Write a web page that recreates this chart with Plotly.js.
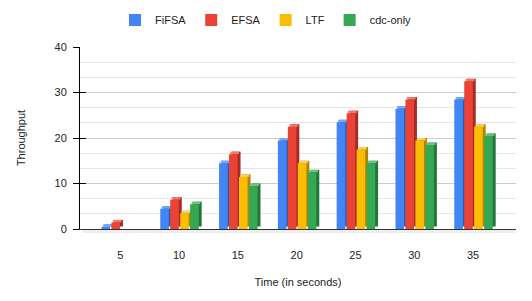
<!DOCTYPE html>
<html>
<head>
<meta charset="utf-8">
<script src="https://cdn.plot.ly/plotly-3.0.1.min.js"></script>
<style>html,body{margin:0;padding:0;background:#fff;}#chart{width:532px;height:301px;}</style>
</head>
<body>
<div id="chart"></div>
<script>
// ---- data ----
var categories = ["5", "10", "15", "20", "25", "30", "35"];
var fifsa   = [1, 5, 15, 20, 24, 27, 29];
var efsa    = [2, 7, 17, 23, 26, 29, 33];
var ltf     = [0, 4, 12, 15, 18, 20, 23];
var cdcOnly = [0, 6, 10, 13, 15, 19, 21];
var seriesNames = ["FiFSA", "EFSA", "LTF", "cdc-only"];

// ---- styling ----
var seriesData = [fifsa, efsa, ltf, cdcOnly];
var front = ["#4285F4", "#EA4335", "#FBBC04", "#34A853"];
var side  = ["#2c5db3", "#a52d25", "#b08400", "#23763a"];
var top_  = ["#78a7f7", "#f07a70", "#fcd15a", "#6cc184"];
var D = 0.55;          // depth in data units (~2.5px)
var W = 0.146;         // bar face width (category units)
var P = 0.1695;        // bar pitch
var O0 = -0.32;        // first bar offset
var dx = 0.05;         // depth shift right (~3px)

var traces = [];
// back (side) faces
seriesData.forEach(function (vals, i) {
  traces.push({
    type: "bar", x: categories,
    y: vals.map(function (v) { return v > 0 ? v - D : null; }),
    base: D, offset: O0 + i * P + dx, width: W,
    marker: {color: side[i]}, showlegend: false, hoverinfo: "skip"
  });
});
// top faces
seriesData.forEach(function (vals, i) {
  traces.push({
    type: "bar", x: categories,
    y: vals.map(function (v) { return v > 0 ? D : null; }),
    base: vals.map(function (v) { return v - D; }),
    offset: O0 + i * P + dx / 2, width: W,
    marker: {color: top_[i]}, showlegend: false, hoverinfo: "skip"
  });
});
// front faces
seriesData.forEach(function (vals, i) {
  traces.push({
    type: "bar", x: categories,
    y: vals.map(function (v) { return v > 0 ? v - D : null; }),
    base: 0, offset: O0 + i * P, width: W,
    name: seriesNames[i],
    marker: {color: front[i]}, showlegend: true
  });
});

var font = {family: "Liberation Sans, Arial, sans-serif", size: 11, color: "#222222"};

var layout = {
  width: 532, height: 301,
  margin: {l: 80, r: 16, t: 47, b: 72},
  paper_bgcolor: "#ffffff", plot_bgcolor: "#ffffff",
  font: font,
  barmode: "overlay",
  showlegend: true,
  legend: {orientation: "h", xref: "container", yref: "container",
           x: 0.5, xanchor: "center", y: 1 - 20 / 301, yanchor: "middle",
           font: font, traceorder: "normal", itemwidth: 30, tracegroupgap: 0},
  xaxis: {
    type: "category", range: [-0.685, 6.73],
    showgrid: false, zeroline: false,
    showline: true, linecolor: "#333333", linewidth: 1,
    ticks: "", tickfont: font, ticklabelstandoff: 16,
    title: {text: "Time (in seconds)", font: font, standoff: 18}
  },
  yaxis: {
    range: [0, 40], dtick: 10, tick0: 0,
    showgrid: true, gridcolor: "#cccccc", gridwidth: 1,
    minor: {dtick: 10 / 3, showgrid: true, gridcolor: "#e6e6e6", gridwidth: 1},
    zeroline: false, showline: true, linecolor: "#000000", linewidth: 1,
    ticks: "outside", ticklen: 6, tickcolor: "#000000", tickwidth: 1,
    tickfont: font, ticklabelstandoff: 4,
    title: {text: "Throughput", font: font, standoff: 26}
  },
  yaxis2: {
    overlaying: "y", range: [0, 40], dtick: 10, tick0: 0,
    showgrid: false, zeroline: false, showline: false,
    ticks: "inside", ticklen: 6, tickcolor: "#000000", tickwidth: 1,
    showticklabels: false, side: "left"
  },
  shapes: [{
    type: "rect", xref: "paper", yref: "paper",
    x0: 0.005, x1: 1, y0: -0.022, y1: 0,
    fillcolor: "#eeeeee", line: {width: 0}, layer: "below"
  }]
};

// dummy trace to enable yaxis2 ticks
traces.push({type: "scatter", x: [categories[0]], y: [null], yaxis: "y2",
             showlegend: false, hoverinfo: "skip"});

Plotly.newPlot("chart", traces, layout, {displayModeBar: false, staticPlot: true});
</script>
</body>
</html>
